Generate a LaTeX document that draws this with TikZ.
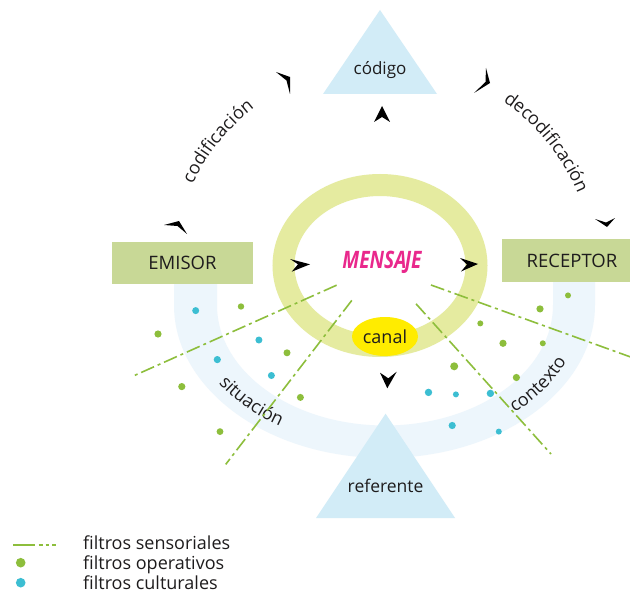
\documentclass[tikz,border=0pt]{standalone}
\usepackage{fontspec}
\setmainfont{Open Sans}
\usetikzlibrary{decorations.text,shapes.geometric}
\definecolor{triblue}{HTML}{D2ECF7}
\definecolor{bandblue}{HTML}{EDF6FC}
\definecolor{ringcol}{RGB}{229,235,160}
\definecolor{boxgreen}{RGB}{200,216,150}
\definecolor{fgreen}{RGB}{141,190,60}
\definecolor{fcyan}{RGB}{60,190,210}
\definecolor{canalcol}{RGB}{255,236,0}
\definecolor{pinkm}{RGB}{233,40,140}
\definecolor{txt}{RGB}{30,28,29}
\newcommand\fsz[1]{\fontsize{#1}{#1}\selectfont}
\begin{document}
\begin{tikzpicture}[x=1pt,y=-1pt,
  lbl/.style={text=txt, inner sep=0pt},
  boxnode/.style={fill=boxgreen, text=txt, inner sep=0pt, font=\fsz{18.5}},
  tri/.style={fill=triblue},
  arrowhd/.style={fill=black},
  filt/.style={draw=fgreen, line width=1.6pt, dash pattern=on 14pt off 4pt on 3pt off 4pt},
  gdot/.style={fill=fgreen},
  cdot/.style={fill=fcyan},
  arctext/.style={decorate, decoration={text along path, text align=center, text={|\fsz{18}\color{txt}|#1}}}
]
\clip (0,0) rectangle (630,594);
\fill[white] (0,0) rectangle (630,594);

% pale blue band
\fill[bandblue] (174,278) -- (174,305) arc[start angle=180, end angle=0, x radius=210.5, y radius=153]
  -- (595,278) -- (553,278) -- (553,305) arc[start angle=0, end angle=180, x radius=168, y radius=120.5]
  -- (217,278) -- cycle;

% ring
\draw[ringcol, line width=22pt] (380,265.5) ellipse[x radius=96.5, y radius=80.5];

% canal
\node[ellipse, fill=canalcol, minimum width=66pt, minimum height=39pt, inner sep=0pt, font=\fsz{18}, text=txt] (canal) at (385,336.5) {canal};

% triangles
\fill[tri] (380,10) -- (437,94) -- (323,94) -- cycle;
\node[lbl, font=\fsz{17}] (codigo) at (380,70) {código};
\fill[tri] (385.6,413.7) -- (455,518) -- (316,518) -- cycle;
\node[lbl, font=\fsz{17.5}] (referente) at (385.6,486) {referente};

% boxes
\node[boxnode, minimum width=141pt, minimum height=42pt] (emisor) at (182.5,263) {EMISOR};
\node[boxnode, minimum width=140pt, minimum height=43pt] (receptor) at (572,260.5) {RECEPTOR};

% mensaje
\node[inner sep=0pt, text=pinkm] (mensaje) at (382,262) {\scalebox{0.8}[1]{\fsz{24}\bfseries\itshape MENSA\kern-2pt JE}};

% arrowheads
\fill[arrowhd] (382,106) -- (390,122) -- (382,117) -- (374,122) -- cycle;
\fill[arrowhd] (310,264.3) -- (290,259) -- (298,264.3) -- (291.7,271.7) -- cycle;
\fill[arrowhd] (478,264) -- (460,258) -- (467,264.5) -- (461,271.5) -- cycle;
\fill[arrowhd] (387.3,388.3) -- (380,372.7) -- (388.3,378.3) -- (396.7,371.7) -- cycle;
\fill[arrowhd] (290,77) -- (276,72) -- (286.5,80.5) -- (290,94) -- cycle;
\fill[arrowhd] (490,83) -- (486,68) -- (485.5,82) -- (474,93) -- cycle;
\fill[arrowhd] (179,221) -- (164,225) -- (177.5,226) -- (187,234) -- cycle;
\fill[arrowhd] (607,227) -- (595,219) -- (606,222.5) -- (615,218) -- cycle;

% curved labels
\path[arctext={codificación}] (383,275) ++(199:211) arc[start angle=199, end angle=239, radius=211];
\path[arctext={decodificación}] (383,275) ++(301:211) arc[start angle=301, end angle=341, radius=211];
\path[arctext={situación}] (384.5,305) ++(155:198 and 143) arc[start angle=155, end angle=115, x radius=198, y radius=143];
\path[arctext={contexto}] (384.5,305) ++(55:198 and 143) arc[start angle=55, end angle=16, x radius=198, y radius=143];

% filter lines
\draw[filt] (336.6,285.2) -- (133.8,375.8);
\draw[filt] (351.8,300.4) -- (225.7,464.4);
\draw[filt] (416,303.8) -- (551,454);
\draw[filt] (431,285) -- (632,357.5);

% cultural dots
\foreach \px/\py/\r in {195.7/310.6/3.5, 258.9/340/3.5, 217.3/359.6/3.6, 271.4/375.5/3.5, 428.5/392.4/3.7, 455.9/394.4/3, 490.4/393.4/3.7, 452.2/425.5/3.6, 498.8/431.6/3}
  \fill[cdot] (\px,\py) circle[radius=\r];
% operative dots
\foreach \px/\py/\r in {241/306.5/3.2, 158/334/3.6, 287/352.8/3.5, 181.8/386.6/3.6, 300.4/397.4/3.5, 220/431.6/3.4, 568/295.4/3, 540/308.9/3.6, 480.3/323.4/3, 503/343.3/3.6, 542.8/343.3/3, 454.2/366.3/4, 516.4/377.5/3.6}
  \fill[gdot] (\px,\py) circle[radius=\r];

% legend
\draw[fgreen, line width=1.6pt, dash pattern=on 22pt off 3.5pt on 4pt off 3pt on 3.5pt off 3pt on 4pt off 30pt] (13,545) -- (57,545);
\fill[gdot] (20.7,562.7) circle[radius=4.8];
\fill[cdot] (20.7,582.7) circle[radius=4.8];
\node[lbl, anchor=base west, font=\fsz{18}] (leg1) at (83,549) {filtros sensoriales};
\node[lbl, anchor=base west, font=\fsz{18}] (leg2) at (83,569) {filtros operativos};
\node[lbl, anchor=base west, font=\fsz{18}] (leg3) at (83,589) {filtros culturales};
\end{tikzpicture}
\end{document}
